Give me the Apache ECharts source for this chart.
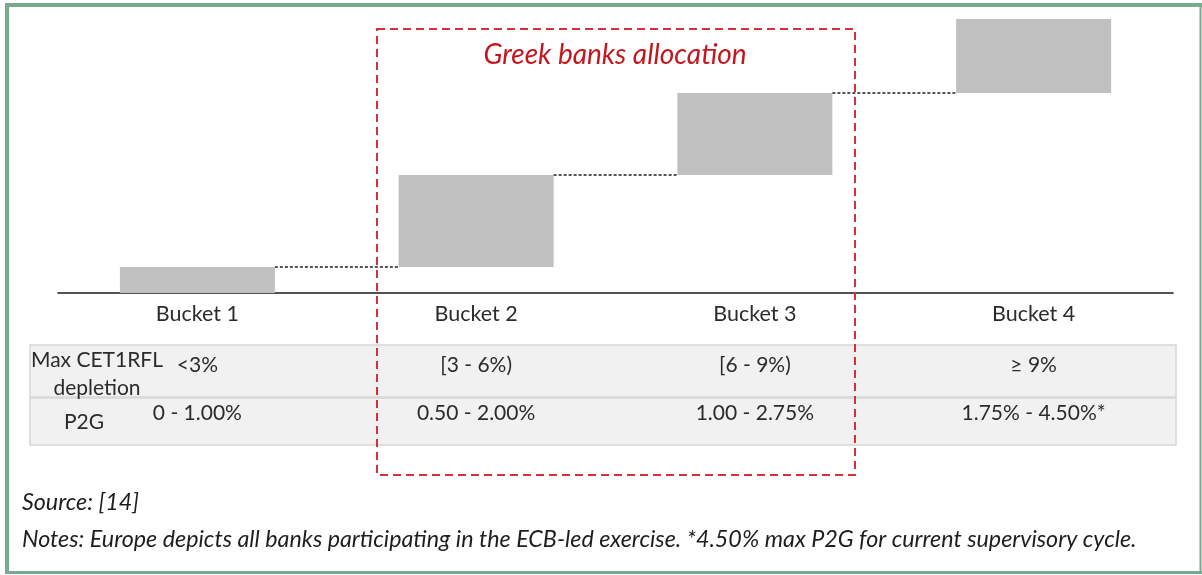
<!DOCTYPE html>
<html>
<head>
<meta charset="utf-8">
<script src="https://cdn.jsdelivr.net/npm/echarts@6/dist/echarts.min.js"></script>
<style>html,body{margin:0;padding:0;background:#fff}#c{width:1202px;height:575px}</style>
</head>
<body>
<div id="c"></div>
<script>
const categories = ['Bucket 1', 'Bucket 2', 'Bucket 3', 'Bucket 4'];
const barBase = [0, 1.0, 4.54, 7.69];
const barTop = [1.0, 4.54, 7.69, 10.54];
const depletionLabels = ['<3%', '[3 - 6%)', '[6 - 9%)', '\u2265 9%'];
const p2gLabels = ['0 - 1.00%', '0.50 - 2.00%', '1.00 - 2.75%', '1.75% - 4.50%*'];
const rowHeaders = ['Max CET1RFL\ndepletion', 'P2G'];
const boxTitle = 'Greek banks allocation';
const sourceText = 'Source: [14]';
const notesText = 'Notes: Europe depicts all banks participating in the ECB-led exercise. *4.50% max P2G for current supervisory cycle.';

const FONT = 'Lato';
const BAR_W = 0.556;
const chart = echarts.init(document.getElementById('c'), null, {renderer: 'canvas'});

const deltas = barTop.map((t, i) => +(t - barBase[i]).toFixed(4));
const connectorData = [];
for (let i = 1; i < categories.length; i++) connectorData.push([i, barBase[i]]);

const catStyle = {fontFamily: FONT, fontSize: 21.5, color: '#2b2b2b'};
const cellStyle = {fontFamily: FONT, fontSize: 21, color: '#2b2b2b'};

const option = {
  animation: false,
  backgroundColor: '#ffffff',
  grid: {left: 58, right: 29, top: 17.4, bottom: 282, containLabel: false},
  xAxis: [
    {type: 'category', data: categories, position: 'bottom',
     axisLine: {lineStyle: {color: '#1a1a1a', width: 1.6}}, axisTick: {show: false},
     axisLabel: Object.assign({margin: 10, interval: 0}, catStyle)},
    {type: 'category', data: depletionLabels, position: 'bottom', offset: 58,
     axisLine: {show: false}, axisTick: {show: false},
     axisLabel: Object.assign({margin: 4, interval: 0}, cellStyle)},
    {type: 'category', data: p2gLabels, position: 'bottom', offset: 106,
     axisLine: {show: false}, axisTick: {show: false},
     axisLabel: Object.assign({margin: 4, interval: 0}, cellStyle)}
  ],
  yAxis: {type: 'value', min: 0, max: 10.6, show: false, splitLine: {show: false}},
  series: [
    {type: 'bar', stack: 'w', data: barBase, barWidth: (BAR_W * 100) + '%',
     itemStyle: {color: 'transparent'}, silent: true},
    {type: 'bar', stack: 'w', data: deltas, barWidth: (BAR_W * 100) + '%',
     itemStyle: {color: '#c0c0c0'}},
    {type: 'custom', data: connectorData, z: 5,
     renderItem: function (params, api) {
       const p = api.coord([api.value(0), api.value(1)]);
       const w = api.size([1, 0])[0];
       const half = w * BAR_W / 2;
       return {type: 'line',
         shape: {x1: p[0] - w + half, y1: p[1], x2: p[0] - half, y2: p[1]},
         style: {stroke: '#1e1e1e', lineWidth: 1.6, lineDash: [3, 2]}};
     }}
  ],
  graphic: [
    // outer border
    {type: 'rect', z: 1, shape: {x: 5, y: 3, width: 4, height: 571}, style: {fill: '#78aa90'}},
    {type: 'rect', z: 1, shape: {x: 5, y: 3, width: 1197, height: 4}, style: {fill: '#78aa90'}},
    {type: 'rect', z: 1, shape: {x: 1199.5, y: 3, width: 2, height: 571}, style: {fill: '#78aa90'}},
    {type: 'rect', z: 1, shape: {x: 5, y: 571, width: 1197, height: 3}, style: {fill: '#78aa90'}},
    // table rows
    {type: 'rect', z: -10, shape: {x: 30, y: 345, width: 1146, height: 52},
     style: {fill: '#f1f1f1', stroke: '#d6d6d6', lineWidth: 1.5}},
    {type: 'rect', z: -10, shape: {x: 30, y: 398, width: 1146, height: 47},
     style: {fill: '#f1f1f1', stroke: '#d6d6d6', lineWidth: 1.5}},
    // row headers
    {type: 'text', z: 10, style: {text: rowHeaders[0], x: 97, y: 346, align: 'center',
      verticalAlign: 'top', font: '21px ' + FONT, fill: '#2b2b2b', lineHeight: 28}},
    {type: 'text', z: 10, style: {text: rowHeaders[1], x: 84, y: 422, align: 'center',
      verticalAlign: 'middle', font: '21px ' + FONT, fill: '#2b2b2b'}},
    // dashed box
    {type: 'rect', z: 100, shape: {x: 377, y: 29, width: 478, height: 446},
     style: {fill: 'none', stroke: '#d2303a', lineWidth: 2, lineDash: [8, 5]}},
    {type: 'text', z: 100, style: {text: boxTitle, x: 615, y: 55, align: 'center',
      verticalAlign: 'middle', font: 'italic 28px ' + FONT, fill: '#c4161c'}},
    // source and notes
    {type: 'text', z: 10, style: {text: sourceText, x: 22, y: 502, align: 'left',
      verticalAlign: 'middle', font: 'italic 23.3px ' + FONT, fill: '#1e1e1e'}},
    {type: 'text', z: 10, style: {text: notesText, x: 22, y: 539, align: 'left',
      verticalAlign: 'middle', font: 'italic 23.3px ' + FONT, fill: '#1e1e1e'}}
  ]
};
chart.setOption(option);
</script>
</body>
</html>
